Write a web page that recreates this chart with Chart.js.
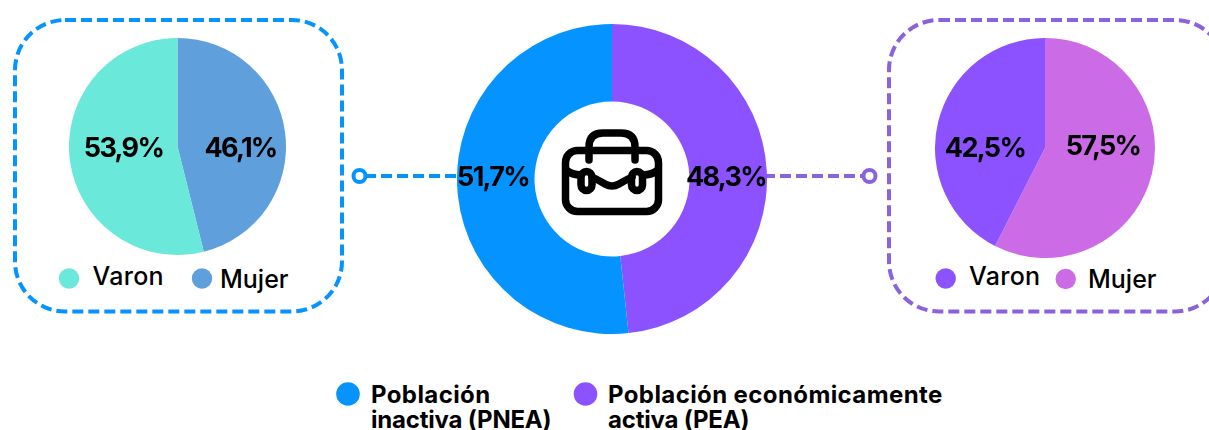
<!DOCTYPE html>
<html lang="es">
<head>
<meta charset="utf-8">
<title>Población inactiva y económicamente activa</title>
<script src="https://cdn.jsdelivr.net/npm/chart.js@4"></script>
<style>
  html, body { margin: 0; padding: 0; background: #fff; }
  #page { position: relative; width: 1209px; height: 430px; overflow: hidden; }
  #page canvas { position: absolute; }
  #overlay { position: absolute; left: 0; top: 0; }
  #overlay text { font-family: Inter, sans-serif; fill: #000; }
  .sexo { font-size: 25px; font-weight: 500; }
  .total { font-size: 24px; font-weight: 700; }
</style>
</head>
<body>
<div id="page">
  <svg id="overlay" width="1209" height="430" xmlns="http://www.w3.org/2000/svg">
    <!-- cajas punteadas -->
    <rect x="15" y="20" width="327" height="291.5" rx="50" fill="none" stroke="#0594ff" stroke-width="4" stroke-dasharray="11 5"/>
    <rect x="889" y="20" width="336" height="291.5" rx="50" fill="none" stroke="#8a62dc" stroke-width="4" stroke-dasharray="11 5"/>

    <!-- conectores -->
    <line x1="365" y1="176" x2="460" y2="176" stroke="#0594ff" stroke-width="4" stroke-dasharray="11 5"/>
    <circle cx="359.5" cy="176" r="6" fill="#fff" stroke="#0594ff" stroke-width="4"/>
    <line x1="764" y1="176" x2="864" y2="176" stroke="#8a62dc" stroke-width="4" stroke-dasharray="11 5"/>
    <circle cx="869.5" cy="176" r="6" fill="#fff" stroke="#8a62dc" stroke-width="4"/>

    <!-- leyendas de sexo -->
    <circle cx="69" cy="278.5" r="10.2" fill="#6ae8d9"/>
    <text class="sexo" x="92.5" y="285" letter-spacing="0.3">Varon</text>
    <circle cx="202" cy="278.5" r="10.2" fill="#5f9fdc"/>
    <text class="sexo" x="220" y="288">Mujer</text>
    <circle cx="945.7" cy="278.5" r="10.2" fill="#8c52ff"/>
    <text class="sexo" x="969" y="285" letter-spacing="0.3">Varon</text>
    <circle cx="1065.7" cy="279" r="10.2" fill="#cb6ce6"/>
    <text class="sexo" x="1088" y="288">Mujer</text>

    <!-- leyenda inferior -->
    <circle cx="348" cy="394" r="11.8" fill="#0594ff"/>
    <text class="total" x="371" y="403" letter-spacing="0.4">Población</text>
    <text class="total" x="371" y="428" letter-spacing="-0.2">inactiva (PNEA)</text>
    <circle cx="585.5" cy="394" r="11.8" fill="#8c52ff"/>
    <text class="total" x="608" y="403" letter-spacing="0.4">Población económicamente</text>
    <text class="total" x="608" y="428" letter-spacing="-0.2">activa (PEA)</text>
  </svg>

  <canvas id="chartPnea" style="left:69px;top:38px"></canvas>
  <canvas id="chartTotal" style="left:457px;top:24px"></canvas>
  <canvas id="chartPea" style="left:935px;top:38px"></canvas>

  <!-- maletin -->
  <svg style="position:absolute;left:0;top:0" width="1209" height="430" xmlns="http://www.w3.org/2000/svg" fill="none" stroke="#000" stroke-width="7.5" stroke-linecap="round" stroke-linejoin="round">
    <rect x="565.5" y="150.5" width="93" height="61" rx="12"/>
    <path d="M589 160 V147 Q589 133 603 133 H621 Q635 133 635 147 V160"/>
    <path d="M566 170 Q572 175 581 175"/>
    <path d="M658 170 Q652 175 643 175"/>
    <path d="M592 177 Q600 181 605 184 Q612 188 619 184 Q624 181 632 177"/>
    <rect x="581" y="171.5" width="11" height="19" rx="5.5"/>
    <rect x="631.5" y="171.5" width="11" height="19" rx="5.5"/>
  </svg>
</div>

<script>
// valores
const totalLabels = ['Población económicamente activa (PEA)', 'Población inactiva (PNEA)'];
const totalValues = [48.3, 51.7];
const totalColors = ['#8c52ff', '#0594ff'];

const pneaLabels = ['Mujer', 'Varon'];
const pneaValues = [46.1, 53.9];
const pneaColors = ['#5f9fdc', '#6ae8d9'];

const peaLabels = ['Mujer', 'Varon'];
const peaValues = [57.5, 42.5];
const peaColors = ['#cb6ce6', '#8c52ff'];

// escribe el porcentaje de cada sector, desplazado desde el centro del grafico
const percentLabels = {
  id: 'percentLabels',
  afterDatasetsDraw(chart, args, pluginOptions) {
    const { ctx, data } = chart;
    const arc = chart.getDatasetMeta(0).data[0];

    ctx.save();
    ctx.font = '700 27px Inter, sans-serif';
    ctx.letterSpacing = '-1.7px';
    ctx.fillStyle = '#000';
    ctx.textAlign = 'center';
    ctx.textBaseline = 'alphabetic';
    data.datasets[0].data.forEach((value, i) => {
      const text = value.toFixed(1).replace('.', ',') + '%';
      const offset = pluginOptions.offsets[i];
      ctx.fillText(text, arc.x + offset[0], arc.y + offset[1]);
    });
    ctx.restore();
  }
};

function makePie(id, size, type, labels, values, colors, cutout, offsets) {
  const canvas = document.getElementById(id);
  canvas.width = size;
  canvas.height = size;
  return new Chart(canvas, {
    type: type,
    data: {
      labels: labels,
      datasets: [{
        data: values,
        backgroundColor: colors,
        borderWidth: 0,
        cutout: cutout
      }]
    },
    options: {
      responsive: false,
      animation: false,
      plugins: {
        legend: { display: false },
        tooltip: { enabled: false },
        percentLabels: { offsets: offsets }
      }
    },
    plugins: [percentLabels]
  });
}

makePie('chartPnea', 217, 'pie', pneaLabels, pneaValues, pneaColors, 0, [[63, 10], [-54, 10]]);
makePie('chartTotal', 310, 'doughnut', totalLabels, totalValues, totalColors, '50%', [[114, 7], [-119, 7]]);
makePie('chartPea', 220, 'pie', peaLabels, peaValues, peaColors, 0, [[58, 7], [-60, 9]]);
</script>
</body>
</html>
